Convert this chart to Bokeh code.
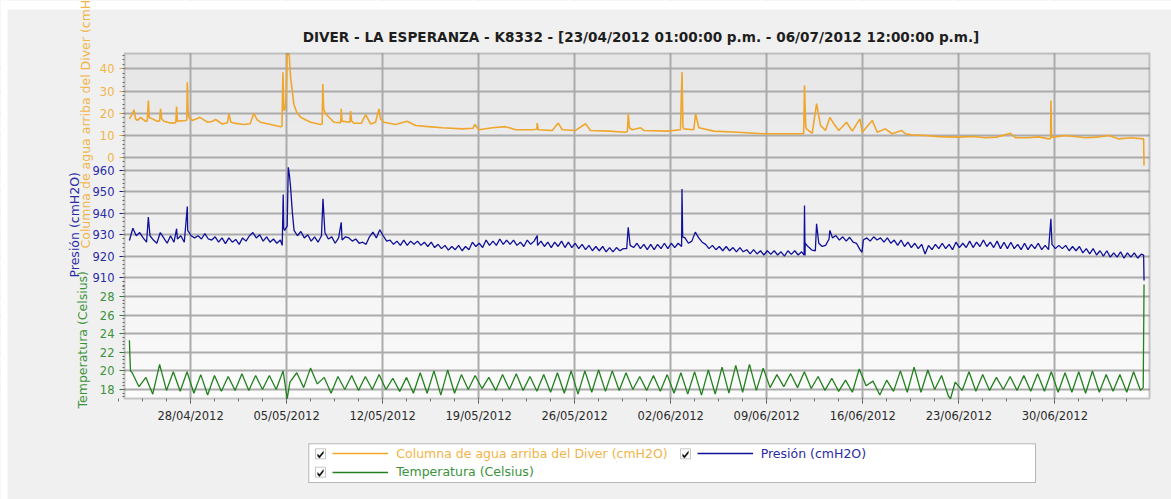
import numpy as np
import pandas as pd
from bokeh.plotting import figure
from bokeh.models import (ColumnDataSource, Range1d, LinearAxis, DatetimeAxis, FixedTicker, Grid,
                          Legend, LegendItem, Label, BoxAnnotation, PolyAnnotation,
                          DatetimeTickFormatter)
from bokeh.embed import file_html
from bokeh.resources import INLINE

START = "2012-04-23 13:00"
END = "2012-07-06 12:00"
TITLE = "DIVER - LA ESPERANZA - K8332 - [23/04/2012 01:00:00 p.m. - 06/07/2012 12:00:00 p.m.]"
ORANGE_NAME = "Columna de agua arriba del Diver (cmH2O)"
BLUE_NAME = "Presión (cmH2O)"
GREEN_NAME = "Temperatura (Celsius)"

x_tick_dates = ["2012-04-28", "2012-05-05", "2012-05-12", "2012-05-19", "2012-05-26",
                "2012-06-02", "2012-06-09", "2012-06-16", "2012-06-23", "2012-06-30"]
orange_ticks = [0, 10, 20, 30, 40]
blue_ticks = [910, 920, 930, 940, 950, 960]
green_ticks = [18, 20, 22, 24, 26, 28]

# Columna de agua (cmH2O): days after START, value
orange_day = [0.00, 0.20, 0.33, 0.45, 0.57, 0.82, 1.18, 1.30, 1.38, 1.45, 1.67, 2.03, 2.20, 2.27, 2.35,
              2.52, 3.00, 3.38, 3.44, 3.50, 4.10, 4.18, 4.22, 4.28, 4.34, 4.58, 4.90, 5.14, 5.68, 6.00,
              6.28, 6.77, 7.15, 7.25, 7.40, 7.62, 8.35, 8.80, 9.07, 9.30, 9.56, 10.29, 11.02, 11.12, 11.19,
              11.25, 11.35, 11.42, 11.50, 11.58, 11.65, 11.75, 11.99, 12.20, 12.48, 13.21, 13.94, 14.05, 14.10,
              14.16, 14.30, 14.91, 15.40, 15.44, 15.50, 16.07, 16.12, 16.20, 16.36, 16.90, 17.22, 17.58, 17.94,
              18.19, 18.30, 18.55, 19.40, 20.25, 20.86, 21.80, 22.80, 24.26, 25.05, 25.18, 25.47, 26.45, 27.42,
              28.15, 29.37, 29.70, 29.73, 29.80, 30.82, 31.26, 31.55, 32.52, 33.25, 33.61, 34.95, 36.17, 36.30,
              36.36, 36.45, 36.65, 37.26, 37.50, 39.20, 40.17, 40.28, 40.35, 40.42, 41.14, 41.27, 41.51, 42.60,
              44.31, 46.25, 48.19, 49.15, 49.21, 49.30, 49.36, 49.77, 50.09, 50.38, 50.74, 51.06, 51.35, 51.71,
              52.27, 52.69, 53.25, 53.42, 54.15, 54.51, 55.10, 55.60, 56.28, 56.57, 57.00, 58.03, 59.00, 60.46,
              61.50, 62.40, 63.20, 64.23, 64.60, 65.50, 66.30, 67.02, 67.15, 67.17, 67.22, 67.35, 68.24, 69.70,
              70.50, 71.40, 72.12, 73.00, 73.93, 73.96]
orange_val = [17.5, 19.5, 21.6, 17.5, 16.8, 18.2, 16.4, 16.6, 25.7, 18.0, 17.5, 16.4, 16.6, 22.0, 17.5,
              16.4, 15.6, 15.8, 23.0, 16.5, 16.8, 17.0, 34.0, 20.0, 18.2, 16.8, 17.5, 18.2, 16.0, 16.3,
              17.2, 15.2, 15.8, 19.8, 16.0, 15.6, 15.0, 15.3, 20.0, 17.2, 16.0, 15.0, 14.0, 14.2, 38.5,
              21.3, 22.0, 28.0, 46.8, 46.8, 46.0, 36.0, 24.0, 20.5, 18.2, 16.0, 15.0, 15.2, 33.2,
              22.0, 19.8, 16.0, 15.8, 22.0, 16.5, 16.0, 21.0, 16.5, 15.6, 15.5, 19.4, 15.2, 16.0,
              22.0, 17.5, 16.0, 15.0, 16.4, 14.5, 14.0, 13.5, 13.0, 13.3, 15.0, 12.6, 13.5, 14.0,
              12.6, 12.6, 12.8, 15.6, 12.6, 12.3, 15.6, 12.6, 12.3, 15.3, 12.3, 12.0, 11.5, 11.8,
              19.8, 13.5, 12.6, 13.5, 12.3, 12.0, 12.6, 38.5, 14.0, 13.0, 12.6, 19.8, 13.5, 12.0,
              11.5, 10.8, 10.8, 10.8, 32.5, 14.0, 13.0, 11.0, 24.3, 14.5, 12.3, 18.2, 15.3, 12.3,
              16.0, 12.0, 17.5, 11.5, 16.8, 11.5, 13.0, 10.8, 12.3, 10.8, 10.3, 10.0, 9.5, 9.3,
              9.6, 9.0, 9.3, 11.0, 9.0, 9.0, 9.4, 8.5, 8.8, 25.7, 9.5, 9.3, 10.0, 9.0,
              9.3, 10.0, 8.5, 9.0, 8.5, -3.5]

# Presión (cmH2O): one row per day, samples every 6 hours from START
BLUE_STEP = 0.25
blue_val = [
    927.3, 933.0, 929.5, 931.0,  928.5, 926.5, 929.5, 927.5,  926.0, 931.0, 928.5, 926.0,
    929.5, 926.5, 928.0, 929.5,  926.5, 932.0, 929.5, 928.5,  929.5, 928.0, 930.5, 928.0,
    927.5, 929.0, 926.5, 928.5,  925.8, 928.5, 926.5, 927.8,  925.5, 928.5, 927.0, 929.5,
    931.0, 928.5, 930.0, 927.0,  929.0, 926.5, 928.0, 926.0,  927.5, 933.0, 934.0, 952.0,
    932.0, 929.5, 931.5, 928.5,  930.0, 927.0, 929.0, 926.5,  929.5, 931.0, 928.0, 929.0,
    926.0, 928.5, 927.5, 929.0,  928.5, 927.0, 928.0, 926.0,  926.5, 925.5, 929.0, 931.2,
    928.5, 932.3, 929.5, 927.0,  927.5, 925.5, 927.0, 925.0,  927.5, 925.0, 927.0, 925.5,
    927.0, 925.0, 926.5, 924.5,  926.5, 924.0, 925.5, 923.5,  925.0, 922.8, 924.5, 923.0,
    925.0, 922.5, 924.5, 923.0,  926.5, 924.5, 926.0, 924.0,  927.5, 925.0, 927.0, 925.0,
    928.0, 925.5, 927.5, 925.5,  927.5, 925.0, 926.5, 924.5,  927.5, 925.5, 927.0, 925.0,
    927.0, 924.5, 926.5, 924.0,  926.5, 924.5, 927.0, 924.0,  926.5, 924.0, 926.0, 923.5,
    925.5, 923.0, 925.0, 922.5,  924.5, 922.5, 924.5, 922.0,  924.0, 922.0, 924.0, 922.5,
    923.5, 923.5, 925.0, 924.0,  926.0, 923.5, 925.5, 923.0,  925.5, 923.0, 925.5, 923.5,
    926.0, 923.5, 926.0, 924.0,  926.0, 924.5, 928.5, 926.0,  927.0, 931.2, 928.5, 926.5,
    925.5, 923.5, 925.0, 923.0,  924.5, 922.5, 924.5, 922.5,  924.0, 922.0, 924.0, 922.0,
    923.0, 921.0, 923.0, 921.0,  922.5, 920.5, 922.5, 920.8,  922.5, 920.5, 922.0, 920.0,
    922.5, 920.8, 922.5, 920.5,  922.0, 920.3, 924.2, 922.8,  922.5, 926.0, 924.5, 925.0,
    928.0, 928.5, 929.6, 927.5,  929.0, 927.0, 928.8, 926.5,  926.0, 923.0, 927.5, 928.5,
    927.0, 929.0, 927.5, 928.5,  926.5, 928.5, 926.0, 927.5,  925.0, 927.5, 924.5, 926.5,
    924.0, 926.0, 923.5, 925.5,  921.0, 925.0, 923.0, 925.5,  923.5, 926.0, 923.5, 925.5,
    923.0, 926.5, 924.0, 926.0,  924.0, 927.0, 924.0, 926.5,  924.5, 927.5, 924.5, 926.5,
    924.0, 927.0, 923.5, 926.5,  923.5, 926.5, 923.5, 925.5,  923.0, 926.0, 923.0, 925.5,
    923.5, 926.0, 923.0, 925.0,  923.0, 925.5, 923.5, 925.0,  923.5, 925.0, 922.5, 924.5,
    922.5, 924.5, 921.5, 923.5,  921.0, 923.5, 920.5, 922.5,  920.0, 922.5, 919.5, 921.5,
    919.5, 922.0, 919.0, 921.5,  919.5, 921.5, 919.0, 920.9,
]
blue_extra_day = [1.38, 3.44, 4.22, 11.14, 11.21, 11.31, 11.58, 11.66, 11.87, 14.11, 15.44, 29.73,
                  36.36, 40.28, 40.33, 49.18, 49.21, 49.26, 50.09, 51.06, 53.40, 67.17, 73.93, 73.96]
blue_extra_val = [938.2, 932.8, 943.2, 925.0, 948.8, 932.0, 961.5, 958.0, 941.0, 946.8, 935.8, 929.6,
                  933.5, 951.4, 929.0, 920.5, 943.6, 926.0, 935.1, 932.0, 921.8, 937.4, 920.5, 908.6]

# Temperatura (Celsius): daily maxima / minima, every 12 h from START + 0.2 day
GREEN_FIRST = 0.2
GREEN_STEP = 0.5
green_val = [
    19.8, 18.3, 19.3, 17.5, 20.7, 17.9, 19.9, 17.8, 19.9, 17.6,
    19.6, 17.4, 19.5, 17.8, 19.4, 17.9, 19.7, 17.9, 19.5, 18.0,
    19.5, 18.0, 20.0, 18.8, 19.8, 18.2, 20.3, 18.6, 19.3, 17.6,
    19.4, 18.0, 19.5, 17.9, 19.4, 18.0, 19.6, 18.0, 19.2, 17.8,
    19.3, 17.6, 19.8, 17.6, 20.0, 17.4, 20.1, 17.6, 19.6, 18.0,
    19.5, 18.1, 19.3, 17.9, 19.6, 18.0, 19.7, 17.9, 19.4, 17.8,
    19.6, 17.7, 19.8, 17.6, 20.0, 17.5, 20.0, 17.7, 20.1, 17.8,
    20.0, 17.9, 19.8, 18.0, 19.4, 17.9, 19.5, 17.8, 19.6, 17.6,
    19.8, 17.5, 19.9, 17.4, 20.1, 17.5, 20.4, 17.6, 20.6, 17.7,
    20.7, 17.9, 20.3, 18.2, 19.6, 18.3, 19.7, 18.2, 19.9, 18.1,
    19.4, 17.9, 19.2, 17.8, 19.0, 17.7, 20.2, 18.4, 18.9, 17.4,
    19.0, 17.8, 20.0, 17.7, 20.4, 17.7, 20.1, 18.0, 19.5, 17.3,
    18.8, 17.9, 19.9, 17.8, 19.6, 17.9, 19.3, 18.0, 19.4, 17.9,
    19.5, 17.8, 19.7, 17.8, 19.9, 17.7, 19.8, 17.7, 19.9, 17.6,
    20.0, 17.7, 19.6, 17.8, 19.6, 17.7, 19.9, 17.9,
]
green_extra_day = [0.00, 0.03, 0.08, 11.50, 59.85, 73.90, 73.96]
green_extra_val = [23.3, 21.8, 20.0, 17.0, 17.0, 18.2, 29.3]

assert len(orange_day) == len(orange_val)
assert len(blue_val) == 296 and len(green_val) == 148

ORANGE = "#F0A62C"
BLUE = "#10109A"
GREEN = "#23801F"
ORANGE_TXT = "#F2B447"
BLUE_TXT = "#2A2AA6"
GREEN_TXT = "#3B923B"
GRID = "#ababab"
BORDER_BG = "#f0f0f0"
FRAME_TOP_BG = (230, 230, 230)
FRAME_BOTTOM_BG = (251, 251, 251)
FONT = "DejaVu Sans"

# canvas / plot-area geometry (pixels)
W, H = 1171, 499
FL, FR, FT, FB = 124, 1149, 53, 398

t0 = pd.Timestamp(START)
t_end = pd.Timestamp(END)
epoch = pd.Timestamp("1970-01-01")


def to_ms(ts):
    return (ts - epoch) / pd.Timedelta(milliseconds=1)


def to_time(days):
    return t0 + pd.to_timedelta(np.asarray(days, dtype=float), unit="D")


def merged(base_days, base_vals, extra_days, extra_vals):
    d = np.concatenate([np.asarray(base_days, float), np.asarray(extra_days, float)])
    v = np.concatenate([np.asarray(base_vals, float), np.asarray(extra_vals, float)])
    order = np.argsort(d, kind="stable")
    return d[order], v[order]


def full_range(v_top, v_bottom):
    """extend a range given at the plot area's top/bottom to the whole canvas"""
    upp = (v_top - v_bottom) / (FB - FT)
    return Range1d(v_bottom - (H - FB) * upp, v_top + FT * upp)


blue_days, blue_vals = merged(np.arange(len(blue_val)) * BLUE_STEP, blue_val, blue_extra_day, blue_extra_val)
green_days, green_vals = merged(GREEN_FIRST + np.arange(len(green_val)) * GREEN_STEP, green_val,
                                green_extra_day, green_extra_val)

src_o = ColumnDataSource(dict(t=to_time(orange_day), v=orange_val))
src_b = ColumnDataSource(dict(t=to_time(blue_days), v=blue_vals))
src_g = ColumnDataSource(dict(t=to_time(green_days), v=green_vals))

# x extent of the plot area, then extended to the full canvas
x0 = to_ms(t0 - pd.Timedelta(hours=8.6))
x1 = to_ms(t_end + pd.Timedelta(hours=9.6))
mpp = (x1 - x0) / (FR - FL)
ORANGE_LIM = (46.88, -108.18)
BLUE_LIM = (1014.67, 853.46)
GREEN_LIM = (54.13, 17.03)

p = figure(width=W, height=H, title=None,
           x_range=Range1d(x0 - FL * mpp, x1 + (W - FR) * mpp),
           y_range=full_range(*ORANGE_LIM),
           x_axis_location=None, y_axis_location=None,
           output_backend="svg", toolbar_location=None,
           min_border_left=0, min_border_right=0, min_border_top=0, min_border_bottom=0,
           background_fill_color=BORDER_BG, border_fill_color=BORDER_BG)
p.outline_line_color = None
p.extra_y_ranges = {"blue": full_range(*BLUE_LIM), "green": full_range(*GREEN_LIM)}
for g in p.grid:
    g.visible = False


def screen_box(**kw):
    return BoxAnnotation(left_units="screen", right_units="screen",
                         top_units="screen", bottom_units="screen", **kw)


# ---- plot-area background: vertical gradient made of thin bands
n_bands = 24
band_h = (FB - FT) / n_bands
for i in range(n_bands):
    f = i / (n_bands - 1)
    rgb = tuple(int(round(a + (b - a) * f)) for a, b in zip(FRAME_TOP_BG, FRAME_BOTTOM_BG))
    col = "#%02x%02x%02x" % rgb
    top = H - FT - i * band_h
    p.add_layout(screen_box(left=FL, right=FR, top=top + 0.5, bottom=top - band_h - 0.5,
                            fill_color=col, fill_alpha=1, line_alpha=0, level="underlay"))

# ---- grids
x_major = [to_ms(pd.Timestamp(d)) for d in x_tick_dates]
minor_step = 1.75 * 86400000.0
x_minor = list(np.arange(x_major[0] - 3 * minor_step, x1, minor_step))
x_ticker = FixedTicker(ticks=x_major, minor_ticks=x_minor)
p.add_layout(Grid(dimension=0, ticker=x_ticker, grid_line_color=GRID, grid_line_width=2))

axis_specs = [
    ("default", orange_ticks, list(np.arange(0, 47, 2)), (0, ORANGE_LIM[0]), ORANGE, ORANGE_TXT),
    ("blue", blue_ticks, list(np.arange(906, 966, 2)), (906, 964), BLUE, BLUE_TXT),
    ("green", green_ticks, list(np.round(np.arange(17.2, 29.8, 0.4), 2)), (GREEN_LIM[1], 29.6), GREEN, GREEN_TXT),
]
for rname, ticks, minors, bnds, col, tcol in axis_specs:
    p.add_layout(Grid(dimension=1, y_range_name=rname, ticker=FixedTicker(ticks=ticks),
                      grid_line_color=GRID, grid_line_width=2))

# ---- cover everything outside the plot area with the chart background
for kw in [dict(right=FL), dict(left=FR), dict(bottom=H - FT), dict(top=H - FB)]:
    p.add_layout(screen_box(fill_color=BORDER_BG, fill_alpha=1, line_alpha=0, level="underlay", **kw))
for kw in [dict(right=7), dict(bottom=H - 9)]:
    p.add_layout(screen_box(fill_color="white", fill_alpha=1, line_alpha=0, level="underlay", **kw))

# ---- data
r_o = p.line("t", "v", source=src_o, color=ORANGE, line_width=1.6)
r_b = p.line("t", "v", source=src_b, color=BLUE, line_width=1.3, y_range_name="blue")
r_g = p.line("t", "v", source=src_g, color=GREEN, line_width=1.3, y_range_name="green")

# ---- plot-area outline
p.add_layout(screen_box(left=FL, right=FR, top=H - FT, bottom=H - FB, fill_alpha=0,
                        line_color="#585858", line_width=2))

# ---- x axis
xa = DatetimeAxis(ticker=x_ticker, fixed_location=ORANGE_LIM[1], bounds=(x0, x1))
fmt = "%d/%m/%Y"
xa.formatter = DatetimeTickFormatter(hours=fmt, days=fmt, months=fmt, years=fmt)
xa.major_label_text_font = FONT
xa.major_label_text_font_size = "11.5px"
xa.major_label_text_color = "#2b2b2b"
xa.axis_line_color = None
xa.major_tick_line_color = "#555555"
xa.minor_tick_line_color = "#777777"
xa.major_tick_out = 5
xa.major_tick_in = 0
xa.minor_tick_out = 3
xa.minor_tick_in = 0
xa.major_label_standoff = 5
p.add_layout(xa, "below")

# ---- stacked y axes at the plot area's left edge
for rname, ticks, minors, bnds, col, tcol in axis_specs:
    ax = LinearAxis(y_range_name=rname, ticker=FixedTicker(ticks=ticks, minor_ticks=minors),
                    fixed_location=x0, bounds=bnds)
    ax.axis_line_color = None
    ax.major_label_text_font = FONT
    ax.major_label_text_font_size = "11.5px"
    ax.major_label_text_color = tcol
    ax.major_tick_line_color = col
    ax.major_tick_out = 5
    ax.major_tick_in = 0
    ax.minor_tick_line_color = "#6a6a6a"
    ax.minor_tick_out = 2
    ax.minor_tick_in = 0
    ax.major_label_standoff = 5
    p.add_layout(ax, "left")

# ---- title and axis titles
p.add_layout(Label(x=(FL + FR) / 2 + 4, y=H - 36, x_units="screen", y_units="screen", text=TITLE,
                   text_align="center", text_baseline="middle", text_font=FONT,
                   text_font_size="13.6px", text_font_style="bold", text_color="#1e1e1e"))
for txt, x, y, col in [(ORANGE_NAME, 85, H - 248, ORANGE_TXT),
                       (BLUE_NAME, 74, H - 277, BLUE_TXT),
                       (GREEN_NAME, 82, H - 408, GREEN_TXT)]:
    p.add_layout(Label(x=x, y=y, x_units="screen", y_units="screen", text=txt,
                       angle=90, angle_units="deg", text_align="left", text_baseline="middle",
                       text_font=FONT, text_font_size="12.5px", text_color=col))

# ---- legend
p.add_layout(screen_box(left=308.3, right=1035, top=H - 443.3, bottom=H - 482,
                        fill_color="white", fill_alpha=1, line_color="#222222", line_width=1))
check_dx = [2, 4, 8, 8, 4, 2]
check_dy = [5, 7, 2, 4.5, 9.5, 7.5]
for left, top in [(315, H - 448.3), (680, H - 448.3), (315, H - 466.7)]:
    p.add_layout(screen_box(left=left, right=left + 10, top=top, bottom=top - 10,
                            fill_color="white", fill_alpha=1, line_color="#444444", line_width=1))
    p.add_layout(PolyAnnotation(xs=[left + dx for dx in check_dx], ys=[top - dy for dy in check_dy],
                                xs_units="screen", ys_units="screen",
                                fill_color="#111111", fill_alpha=1, line_color="#111111", line_width=0.5))

for rend, name, col, loc in [(r_o, ORANGE_NAME, ORANGE_TXT, (332.3, H - 461.3)),
                             (r_b, BLUE_NAME, BLUE_TXT, (696.7, H - 461.3)),
                             (r_g, GREEN_NAME, GREEN_TXT, (332.3, H - 479.7))]:
    lg = Legend(items=[LegendItem(label=name, renderers=[rend])], location=loc,
                orientation="horizontal", padding=0, margin=0, spacing=0,
                border_line_alpha=0, background_fill_alpha=0,
                glyph_width=56, glyph_height=16, label_height=16, label_standoff=8,
                label_text_font=FONT, label_text_font_size="12.5px", label_text_color=col)
    p.add_layout(lg)

open("out.html", "w").write(file_html(p, INLINE))
